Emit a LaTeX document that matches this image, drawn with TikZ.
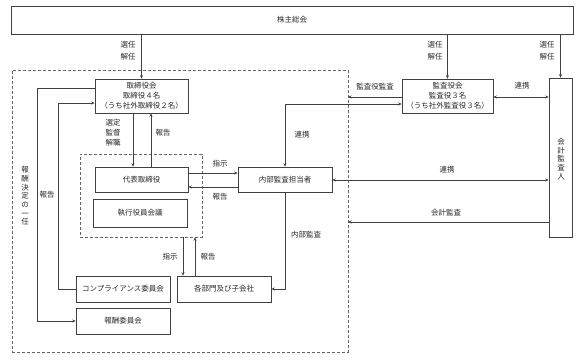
\documentclass[tikz,border=0pt]{standalone}
\usepackage{fontspec}
\setmainfont{Noto Sans CJK JP}
\usetikzlibrary{arrows.meta}
\tikzset{
  box/.style={draw=black!75, line width=0.6pt, rectangle, inner sep=0pt, align=center, text=black!85, font=\fontsize{7.5}{10}\selectfont},
  dashbox/.style={draw=black!60, line width=0.6pt, dash pattern=on 3pt off 2pt, rectangle, inner sep=0pt},
  lbl/.style={inner sep=0pt, align=center, text=black!85, font=\fontsize{7.5}{12}\selectfont},
  vlbl/.style={inner sep=0pt, align=center, text=black!85, font=\fontsize{7.5}{8.7}\selectfont},
  conn/.style={draw=black!75, line width=0.6pt},
  arr/.style={conn, -{Stealth[length=3.5pt,width=3pt]}},
  darr/.style={conn, {Stealth[length=3.5pt,width=3pt]}-{Stealth[length=3.5pt,width=3pt]}}
}
\begin{document}
\begin{tikzpicture}[x=1pt,y=-1pt]
\useasboundingbox (0,0) rectangle (581,361);
% containers
\node[dashbox, minimum width=336pt, minimum height=282pt] (outer) at (180,211) {};
\node[dashbox, minimum width=122pt, minimum height=83pt] (inner) at (141,195.5) {};
% boxes
\node[box, minimum width=562pt, minimum height=28pt] (sh) at (292,20) {株主総会};
\node[box, minimum width=93pt, minimum height=34pt] (bd) at (141.5,96) {取締役会\\取締役４名\\（うち社外取締役２名）};
\node[box, minimum width=93pt, minimum height=25pt] (rep) at (141.5,179.5) {代表取締役};
\node[box, minimum width=94pt, minimum height=28pt] (exec) at (140,213) {執行役員会議};
\node[box, minimum width=94pt, minimum height=25pt] (ia) at (285,179.5) {内部監査担当者};
\node[box, minimum width=91pt, minimum height=34pt] (kan) at (447.5,96) {監査役会\\監査役３名\\（うち社外監査役３名）};
\node[box, minimum width=23pt, minimum height=159pt] (aud) at (560.5,157.5) {};
\node[vlbl] (audt) at (561,159) {会\\計\\監\\査\\人};
\node[box, minimum width=94pt, minimum height=26pt] (dept) at (224,289) {各部門及び子会社};
\node[box, minimum width=94pt, minimum height=26pt] (comp) at (123,289) {コンプライアンス委員会};
\node[box, minimum width=94pt, minimum height=26pt] (rem) at (123,321) {報酬委員会};
% shareholders
\draw[arr] (bd.north |- sh.south) -- (bd.north);
\node[lbl] (l1) at (128,51) {選任\\解任};
\draw[arr] (kan.north |- sh.south) -- (kan.north);
\node[lbl] (l2) at (435,51) {選任\\解任};
\draw[arr] (aud.north |- sh.south) -- (aud.north);
\node[lbl] (l3) at (547,51) {選任\\解任};
% board <-> representative
\draw[arr] ([xshift=-8.5pt]bd.south) -- ([xshift=-8.5pt]bd.south |- rep.north);
\node[lbl, font=\fontsize{7.5}{10}\selectfont] (l4) at (113,133) {選定\\監督\\解職};
\draw[arr] ([xshift=9.5pt]bd.south |- rep.north) -- ([xshift=9.5pt]bd.south);
\node[lbl] (l5) at (163,133) {報告};
% representative <-> internal audit
\draw[arr] ([yshift=6.5pt]rep.east) -- ([yshift=6.5pt]rep.east -| ia.west);
\node[lbl] (l6) at (220,164) {指示};
\draw[arr] ([yshift=-7.5pt]ia.west) -- ([yshift=-7.5pt]ia.west -| rep.east);
\node[lbl] (l7) at (220,197) {報告};
% kansayaku
\coordinate (kb) at (348,97);
\draw[arr] (kan.west |- kb) -- (kb);
\node[lbl] (l8) at (375,87) {監査役監査};
\coordinate (kc) at (285,104);
\draw[darr] (kan.west |- kc) -- (kc) -- (ia.north);
\node[lbl] (l9) at (302,135) {連携};
\draw[darr] (kan.east |- kb) -- (aud.west |- kb);
\node[lbl] (l10) at (522,86) {連携};
% auditor
\draw[darr] ([yshift=-0.5pt]ia.east) -- ([yshift=-0.5pt]ia.east -| aud.west);
\node[lbl] (l11) at (447,170) {連携};
\coordinate (ab) at (348,222);
\draw[arr] (aud.west |- ab) -- (ab);
\node[lbl] (l12) at (446,213) {会計監査};
% internal audit -> departments
\draw[arr] (ia.south) |- (dept.east);
\node[lbl] (l13) at (306,235) {内部監査};
% inner <-> departments
\draw[arr] (inner.south -| 183,0) -- (183,0 |- dept.north);
\node[lbl] (l14) at (170,257) {指示};
\draw[arr] (195,0 |- dept.north) -- (inner.south -| 195,0);
\node[lbl] (l15) at (208,257) {報告};
% compliance -> board
\coordinate (cb) at (58,103);
\draw[arr] (comp.west) -- (comp.west -| cb) -- (cb) -- (bd.west |- cb);
\node[lbl] (l16) at (47,195) {報告};
% board -> remuneration
\coordinate (rb) at (37,88);
\draw[arr] (bd.west |- rb) -- (rb) -- (rb |- rem.west) -- (rem.west);
\node[vlbl] (l17) at (25,196) {報\\酬\\決\\定\\の\\一\\任};
\end{tikzpicture}
\end{document}
